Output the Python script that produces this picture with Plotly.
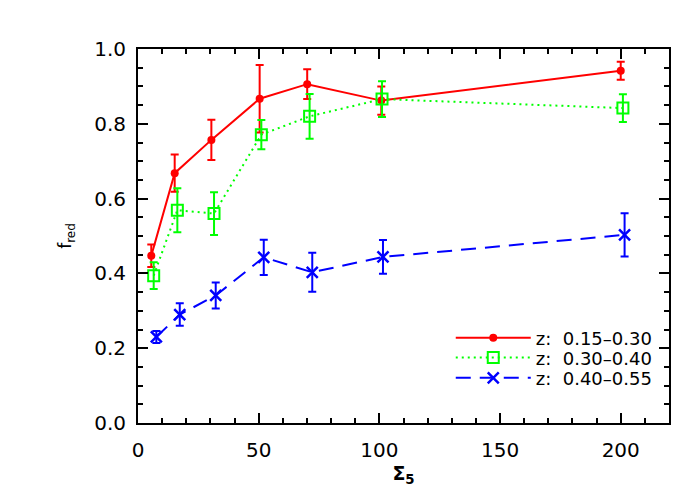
import plotly.graph_objects as go

# z: 0.15-0.30
sigma_red = [5.5, 15.2, 30.4, 50.4, 70.1, 100.8, 200.0]
fred_red = [0.447, 0.668, 0.757, 0.867, 0.906, 0.862, 0.942]
err_red = [0.030, 0.050, 0.054, 0.090, 0.040, 0.038, 0.024]

# z: 0.30-0.40
sigma_green = [6.5, 16.3, 31.5, 51.1, 71.1, 101.1, 200.9]
fred_green = [0.394, 0.569, 0.560, 0.771, 0.820, 0.866, 0.842]
err_green = [0.036, 0.059, 0.057, 0.039, 0.060, 0.048, 0.037]

# z: 0.40-0.55
sigma_blue = [7.6, 17.3, 32.2, 52.1, 72.2, 101.5, 201.6]
fred_blue = [0.230, 0.290, 0.341, 0.443, 0.403, 0.444, 0.503]
err_blue = [0.016, 0.030, 0.035, 0.047, 0.052, 0.045, 0.058]

labels = ["z:  0.15\u20130.30", "z:  0.30\u20130.40", "z:  0.40\u20130.55"]

FONT = "DejaVu Sans, Verdana, sans-serif"

fig = go.Figure()

fig.add_trace(go.Scatter(
    x=sigma_red, y=fred_red, name=labels[0], mode="lines+markers", legend="legend2",
    line=dict(color="#ff0000", width=2),
    marker=dict(symbol="circle", size=8, color="#ff0000"),
    error_y=dict(type="data", array=err_red, color="#ff0000", thickness=2, width=4),
))
fig.add_trace(go.Scatter(
    x=sigma_green, y=fred_green, name=labels[1], mode="lines+markers", legend="legend3",
    line=dict(color="#00ff00", width=2, dash="2px,4px"),
    marker=dict(symbol="square-open", size=11, color="#00ff00", line=dict(width=2)),
    error_y=dict(type="data", array=err_green, color="#00ff00", thickness=2, width=4),
))
fig.add_trace(go.Scatter(
    x=sigma_blue, y=fred_blue, name=labels[2], mode="lines+markers", legend="legend4",
    line=dict(color="#0000ff", width=2, dash="15px,9px"),
    marker=dict(symbol="x-thin-open", size=11, color="#0000ff", line=dict(width=2.5)),
    error_y=dict(type="data", array=err_blue, color="#0000ff", thickness=2, width=4),
))

axis_common = dict(
    showline=True, linecolor="black", linewidth=2, mirror="ticks",
    ticks="inside", ticklen=10, tickwidth=2, tickcolor="black",
    showgrid=False, zeroline=False,
    tickfont=dict(family=FONT, size=20, color="black"),
)

fig.update_xaxes(
    range=[0, 220], tickvals=[0, 50, 100, 150, 200], ticklabelstandoff=8,
    minor=dict(dtick=10, ticks="inside", ticklen=5, tickwidth=2, tickcolor="black"),
    title=dict(text="<b>\u03a3<sub>5</sub></b>", font=dict(family=FONT, size=19, color="black"), standoff=2),
    **axis_common,
)
fig.update_yaxes(
    range=[0, 1.0], tickvals=[0, 0.2, 0.4, 0.6, 0.8, 1.0], tickformat=".1f", ticklabelstandoff=6,
    minor=dict(dtick=0.05, ticks="inside", ticklen=5, tickwidth=2, tickcolor="black"),
    title=dict(text="f<sub>red</sub>", font=dict(family=FONT, size=17, color="black"), standoff=18),
    **axis_common,
)

legend_style = dict(
    xanchor="left", yanchor="middle", bgcolor="rgba(0,0,0,0)", itemwidth=75,
    font=dict(family=FONT, size=18, color="black"),
)
fig.update_layout(
    width=700, height=500,
    margin=dict(l=130, r=39, t=41, b=85),
    paper_bgcolor="white", plot_bgcolor="white",
    font=dict(family=FONT, color="black"),
    showlegend=True,
    legend2=dict(x=0.589, y=0.227, **legend_style),
    legend3=dict(x=0.589, y=0.174, **legend_style),
    legend4=dict(x=0.589, y=0.12, **legend_style),
)

fig.write_html("out.html")
